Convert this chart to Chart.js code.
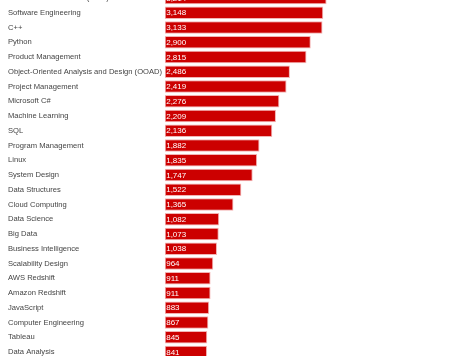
<!DOCTYPE html>
<html>
<head>
<meta charset="utf-8">
<script src="https://cdn.jsdelivr.net/npm/chart.js@4"></script>
<style>
html,body{margin:0;padding:0;background:#fff;overflow:hidden;width:475px;height:356px;}
#wrap{position:absolute;left:0;top:-14px;width:475px;height:378px;}
</style>
</head>
<body>
<div id="wrap"><canvas id="c"></canvas></div>
<script>
const categories = [
  "Amazon Web Services (AWS)",
  "Software Engineering",
  "C++",
  "Python",
  "Product Management",
  "Object-Oriented Analysis and Design (OOAD)",
  "Project Management",
  "Microsoft C#",
  "Machine Learning",
  "SQL",
  "Program Management",
  "Linux",
  "System Design",
  "Data Structures",
  "Cloud Computing",
  "Data Science",
  "Big Data",
  "Business Intelligence",
  "Scalability Design",
  "AWS Redshift",
  "Amazon Redshift",
  "JavaScript",
  "Computer Engineering",
  "Tableau",
  "Data Analysis"
];
const jobCounts = [3214, 3148, 3133, 2900, 2815, 2486, 2419, 2276, 2209, 2136, 1882, 1835, 1747, 1522, 1365, 1082, 1073, 1038, 964, 911, 911, 883, 867, 845, 841];
const xMin = 0;
const xMax = 3500;

const valueLabels = {
  id: 'valueLabels',
  afterDatasetsDraw(chart) {
    const ctx = chart.ctx;
    const meta = chart.getDatasetMeta(0);
    ctx.save();
    ctx.fillStyle = '#ffffff';
    ctx.font = '8px "Liberation Sans", Arial, sans-serif';
    ctx.textAlign = 'left';
    ctx.textBaseline = 'middle';
    meta.data.forEach((bar, i) => {
      ctx.fillText(chart.data.datasets[0].data[i].toLocaleString('en-US'), bar.base + 1.5, bar.y + 0.5);
    });
    ctx.restore();
  }
};

new Chart(document.getElementById('c'), {
  type: 'bar',
  data: {
    labels: categories,
    datasets: [{
      data: jobCounts,
      backgroundColor: '#cc0000',
      borderColor: '#f3b3b3',
      borderWidth: 1,
      borderSkipped: false,
      barPercentage: 0.84,
      categoryPercentage: 1
    }]
  },
  options: {
    indexAxis: 'y',
    responsive: true,
    maintainAspectRatio: false,
    animation: false,
    layout: { padding: { left: 8, right: 134, top: 0, bottom: 0 } },
    plugins: { legend: { display: false }, tooltip: { enabled: false } },
    scales: {
      x: { display: false, min: xMin, max: xMax },
      y: {
        grid: { display: false, drawTicks: false },
        border: { display: false },
        ticks: {
          crossAlign: 'far',
          color: '#444',
          padding: 0,
          autoSkip: false,
          font: { family: '"Liberation Sans", Arial, sans-serif', size: 7.6 }
        },
        afterFit(scale) { scale.width = 156.7; }
      }
    }
  },
  plugins: [valueLabels]
});
</script>
</body>
</html>
